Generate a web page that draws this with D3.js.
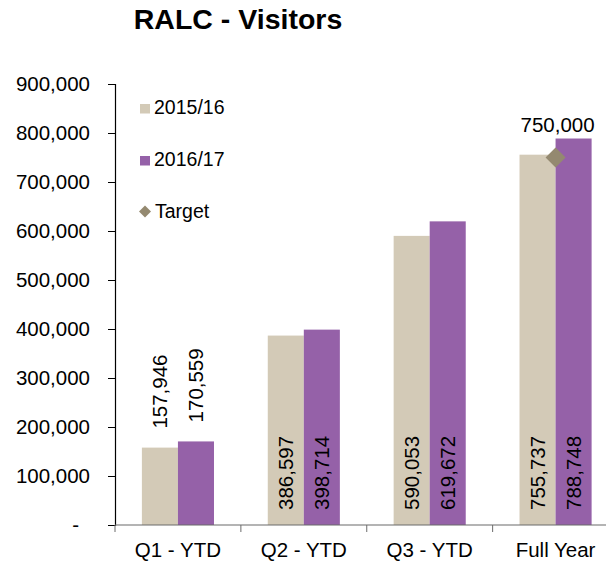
<!DOCTYPE html>
<html>
<head>
<meta charset="utf-8">
<script src="https://cdn.jsdelivr.net/npm/d3@7"></script>
<style>
  body { margin: 0; background: #fff; }
  text { font-family: "Liberation Sans", Arial, sans-serif; fill: #000; }
</style>
</head>
<body>
<svg id="chart"></svg>
<script>
// Chart data
const categories = ["Q1 - YTD", "Q2 - YTD", "Q3 - YTD", "Full Year"];
const seriesNames = ["2015/16", "2016/17"];
const visitors1516 = [157946, 386597, 590053, 755737];
const visitors1617 = [170559, 398714, 619672, 788748];
const targetCategory = "Full Year";
const targetValue = 750000;
const yTicks = [0, 100000, 200000, 300000, 400000, 500000, 600000, 700000, 800000, 900000];

const colors = { "2015/16": "#d3cab7", "2016/17": "#9561a8", target: "#948970" };

const width = 606;
const height = 561;

const svg = d3.select("#chart").attr("width", width).attr("height", height);

// Scales
const x0 = d3.scaleBand().domain(categories).range([115, 618.5]).paddingInner(0).paddingOuter(0);
const x1 = d3.scaleBand().domain(seriesNames).range([0, x0.bandwidth()]).paddingInner(0).paddingOuter(0.746);
const y = d3.scaleLinear().domain([0, 900000]).range([525, 84]);

const fmt = d3.format(",");

// Title
svg.append("text")
  .attr("x", 238)
  .attr("y", 29)
  .attr("text-anchor", "middle")
  .style("font-size", "28.5px")
  .style("font-weight", "bold")
  .text("RALC - Visitors");

// Bars
const rows = categories.map((c, i) => ({
  cat: c,
  values: [
    { name: "2015/16", value: visitors1516[i] },
    { name: "2016/17", value: visitors1617[i] }
  ]
}));

const groups = svg.selectAll(".grp")
  .data(rows)
  .enter()
  .append("g")
  .attr("class", "grp")
  .attr("transform", (d) => `translate(${x0(d.cat)},0)`);

groups.selectAll("rect")
  .data((d) => d.values)
  .enter()
  .append("rect")
  .attr("x", (d) => x1(d.name))
  .attr("width", x1.bandwidth())
  .attr("y", (d) => y(d.value))
  .attr("height", (d) => y(0) - y(d.value))
  .attr("fill", (d) => colors[d.name]);

// Data labels: first category sits above the bars, the rest inside at the base
groups.each(function (g, gi) {
  d3.select(this).selectAll("text.lbl")
    .data(g.values)
    .enter()
    .append("text")
    .attr("class", "lbl")
    .attr("transform", (d) => {
      const cx = x1(d.name) + x1.bandwidth() / 2;
      const cy = gi === 0 ? y(d.value) - 19 : y(0) - 15;
      return `translate(${cx},${cy}) rotate(-90)`;
    })
    .attr("dy", "0.35em")
    .attr("text-anchor", "start")
    .style("font-size", "20.5px")
    .text((d) => fmt(d.value));
});

// Y axis
const yAxis = svg.append("g")
  .attr("transform", "translate(115,0)")
  .call(d3.axisLeft(y).tickValues(yTicks).tickSize(7).tickPadding(18)
    .tickFormat((d) => (d === 0 ? "-" : fmt(d))));
yAxis.select(".domain").attr("stroke", "#000").attr("stroke-width", 1.2);
yAxis.selectAll(".tick line").attr("stroke", "#000");
yAxis.selectAll(".tick text")
  .style("font-size", "20.5px")
  .attr("dx", (d) => (d === 0 ? -11 : 0));

// X axis (ticks at category boundaries like the original)
const xAxis = svg.append("g");
xAxis.append("line")
  .attr("x1", x0.range()[0]).attr("x2", x0.range()[1])
  .attr("y1", y(0)).attr("y2", y(0))
  .attr("stroke", "#6b6b6b").attr("stroke-width", 1.2);
xAxis.selectAll(".xt")
  .data(categories)
  .enter()
  .append("line")
  .attr("x1", (d) => x0(d)).attr("x2", (d) => x0(d))
  .attr("y1", y(0)).attr("y2", y(0) + 7)
  .attr("stroke", "#6b6b6b");
xAxis.selectAll(".xl")
  .data(categories)
  .enter()
  .append("text")
  .attr("x", (d) => x0(d) + x0.bandwidth() / 2)
  .attr("y", 557)
  .attr("text-anchor", "middle")
  .style("font-size", "20.5px")
  .text((d) => d);

// Target marker
const tx = x0(targetCategory) + x0.bandwidth() / 2;
svg.append("path")
  .attr("d", "M0,-10L10,0L0,10L-10,0Z")
  .attr("transform", `translate(${tx},${y(targetValue)})`)
  .attr("fill", colors.target);
svg.append("text")
  .attr("x", tx + 2)
  .attr("y", y(targetValue) - 26)
  .attr("text-anchor", "middle")
  .style("font-size", "20.5px")
  .text(fmt(targetValue));

// Legend
const legend = svg.append("g").attr("transform", "translate(140,0)");
seriesNames.forEach((s, i) => {
  const ly = 113 + i * 52;
  legend.append("rect")
    .attr("x", 0).attr("y", ly - 9)
    .attr("width", 10).attr("height", 9.5)
    .attr("fill", colors[s]);
  legend.append("text")
    .attr("x", 14).attr("y", ly + 1)
    .style("font-size", "19.5px")
    .text(s);
});
legend.append("path")
  .attr("d", "M0,-6L6,0L0,6L-6,0Z")
  .attr("transform", "translate(5,211.5)")
  .attr("fill", colors.target);
legend.append("text")
  .attr("x", 15).attr("y", 218)
  .style("font-size", "19.5px")
  .text("Target");
</script>
</body>
</html>
